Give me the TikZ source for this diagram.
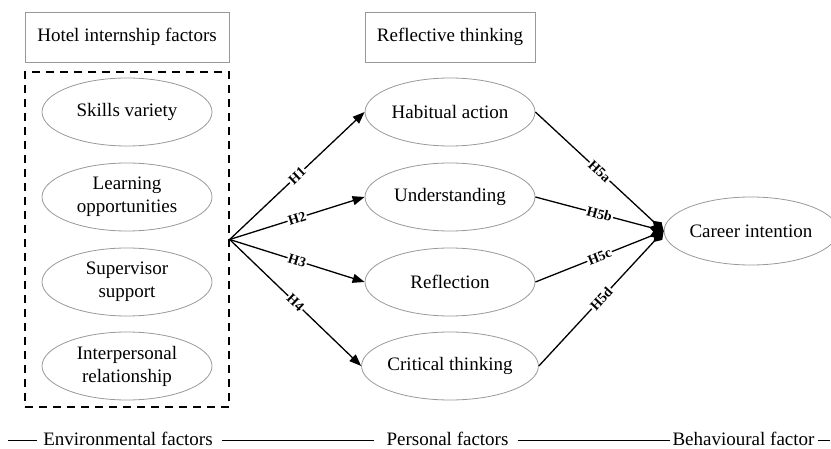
\documentclass[tikz,border=0pt]{standalone}
\usepackage{fontspec}
\setmainfont{Liberation Serif}
\usepackage{tikz}
\usetikzlibrary{shapes.geometric, positioning, arrows.meta}

\begin{document}
\begin{tikzpicture}[x=1pt,y=-1pt,
  font=\fontsize{19}{23}\selectfont,
  factor/.style={ellipse,draw=gray!80,line width=0.8pt,minimum width=170pt,minimum height=68pt,inner sep=0pt,align=center},
  heading/.style={rectangle,draw=gray!80,line width=0.8pt,minimum height=50pt,inner sep=0pt},
  hyp/.style={midway,sloped,fill=white,inner sep=1pt,font=\fontsize{14}{15}\selectfont\bfseries},
  path/.style={line width=1.3pt,-{Triangle[length=12pt,width=9pt]}},
  joint/.style={line width=1.3pt,-{Diamond[length=15pt,width=10pt]}},
  span/.style={inner sep=0pt}]
  \useasboundingbox (0,0) rectangle (831,449);
  % headings
  \node[heading,minimum width=204pt] (hotel) at (127,37) {Hotel internship factors};
  \node[heading,minimum width=170pt] (reflect) at (450,37) {Reflective thinking};
  % internship factors in the dashed frame
  \node[draw,line width=1.3pt,dash pattern=on 8pt off 6pt,minimum width=204pt,minimum height=335pt,inner sep=0pt] (envbox) at (127,239.5) {};
  \node[factor] (skills) at (127,112) {Skills variety};
  \node[factor] (learn) at (127,197) {Learning\\opportunities};
  \node[factor] (superv) at (127,282) {Supervisor\\support};
  \node[factor] (relat) at (127,366) {Interpersonal\\relationship};
  % reflective thinking
  \node[factor] (habit) at (450,112) {Habitual action};
  \node[factor] (under) at (450,197) {Understanding};
  \node[factor] (reflec) at (450,282) {Reflection};
  \node[factor] (critic) at (450,366) {Critical thinking};
  \node[factor,minimum width=162pt] (career) at (751,231) {Career intention};
  % hypotheses
  \draw[path] (envbox.east) -- node[hyp]{H1} (habit.west);
  \draw[path] (envbox.east) -- node[hyp]{H2} (under.west);
  \draw[path] (envbox.east) -- node[hyp]{H3} (reflec.west);
  \draw[path] (envbox.east) -- node[hyp]{H4} (critic.west);
  \draw[joint] (habit.east) -- node[hyp]{H5a} (career.west);
  \draw[joint] (under.east) -- node[hyp]{H5b} (career.west);
  \draw[joint] (reflec.east) -- node[hyp]{H5c} (career.west);
  \draw[joint] (critic.east) -- node[hyp]{H5d} (career.west);
  % factor levels along the bottom
  \node[span] (env) at (128,439) {Environmental factors};
  \node[span] (pers) at (447.5,439) {Personal factors};
  \node[span] (behav) at (743.5,439) {Behavioural factor};
  \coordinate (lend) at (8,440);
  \coordinate (rend) at (830,440);
  \draw[line width=0.9pt] (lend) -- ([xshift=-6pt,yshift=-1pt]env.west);
  \draw[line width=0.9pt] ([xshift=9pt,yshift=-1pt]env.east) -- ([xshift=-12pt,yshift=-1pt]pers.west);
  \draw[line width=0.9pt] ([xshift=9pt,yshift=-1pt]pers.east) -- ([xshift=-2pt,yshift=-1pt]behav.west);
  \draw[line width=0.9pt] ([xshift=3pt,yshift=-1pt]behav.east) -- (rend);
\end{tikzpicture}
\end{document}
